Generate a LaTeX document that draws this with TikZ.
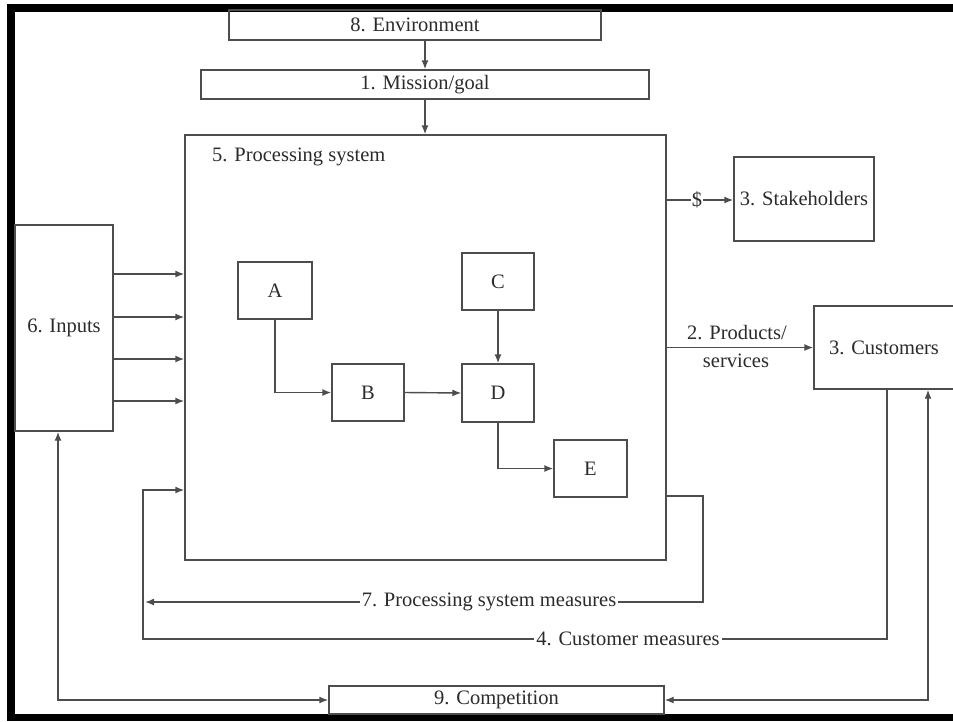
\documentclass[tikz,border=0pt]{standalone}
\usepackage{fontspec}
\setmainfont{Liberation Serif}
\newfontfamily\tnr{Liberation Serif}
\usetikzlibrary{arrows.meta}
\definecolor{ln}{HTML}{4d4d4d}
\definecolor{tx}{HTML}{2b2b2b}
\begin{document}
\begin{tikzpicture}[x=1pt,y=-1pt,
  box/.style={draw=ln,line width=1.4pt,rectangle,inner sep=0pt,text=tx,font=\tnr\fontsize{20.5}{22}\selectfont},
  lbl/.style={text=tx,font=\tnr\fontsize{20.5}{22}\selectfont,inner sep=2pt},
  wl/.style={lbl,fill=white},
  ln/.style={draw=ln,line width=1.4pt},
  arr/.style={ln,-{Latex[length=9pt,width=7pt]}},
  barr/.style={ln,{Latex[length=9pt,width=7pt]}-{Latex[length=9pt,width=7pt]}}]
\useasboundingbox (0,0) rectangle (953,721);
% frame
\fill[black] (7,4) rectangle (15,721);
\fill[black] (7,4) rectangle (953,12);
\fill[black] (7,714) rectangle (953,721);
% boxes
\node[box,minimum width=372pt,minimum height=30pt] (env) at (415,25) {8. Environment};
\node[box,minimum width=448pt,minimum height=29pt] (mis) at (425,84.5) {1. Mission/goal};
\node[box,minimum width=481pt,minimum height=425pt] (proc) at (425.5,347.5) {};
\node[lbl,anchor=west] (proct) at (210,157) {5. Processing system};
\node[box,minimum width=98pt,minimum height=206pt] (inp) at (64,328) {6. Inputs};
\node[box,minimum width=140pt,minimum height=84pt] (stake) at (804,199) {3. Stakeholders};
\node[box,minimum width=140pt,minimum height=83pt] (cust) at (884,347.5) {3. Customers};
\node[box,minimum width=335pt,minimum height=28pt] (comp) at (496.5,700) {9. Competition};
\node[box,minimum width=74pt,minimum height=57pt] (A) at (275,290.5) {A};
\node[box,minimum width=72pt,minimum height=57pt] (B) at (368,392.5) {B};
\node[box,minimum width=72pt,minimum height=57pt] (C) at (498,281.5) {C};
\node[box,minimum width=72pt,minimum height=58pt] (D) at (498,393) {D};
\node[box,minimum width=73pt,minimum height=57pt] (E) at (590.5,468.5) {E};
% top arrows
\draw[arr] (mis.north |- env.south) -- (mis.north);
\draw[arr] (mis.south) -- (mis.south |- proc.north);
% inputs
\foreach \yy in {274,317,359,401}
  \draw[arr] (inp.east |- 0,\yy) -- (proc.west |- 0,\yy);
% inner flow
\draw[arr] (A.south) |- (B.west);
\draw[arr] (B.east) -- (D.west);
\draw[arr] (C.south) -- (D.north);
\draw[arr] (D.south) |- (E.west);
% stakeholders
\node[lbl,inner sep=1pt] (dollar) at (697,200) {\$};
\draw[ln] (proc.east |- dollar) -- (dollar.west);
\draw[arr] (dollar.east) -- (stake.west |- dollar);
% products
\draw[arr] (proc.east |- cust.west) -- (cust.west);
\node[lbl] (prod) at (737,333) {2. Products/};
\node[lbl] (serv) at (736,361) {services};
% processing system measures
\coordinate (pm1) at (703,496);
\coordinate (pm2) at (703,602);
\coordinate (pm3) at (145,602);
\node[wl] (pmt) at (489,602) {7. Processing system measures};
\draw[ln] (proc.east |- pm1) -- (pm1) -- (pm2) -- (pmt.east);
\draw[arr] (pmt.west) -- (pm3);
% customer measures
\coordinate (cm1) at (887,639);
\coordinate (cm2) at (143,639);
\coordinate (cm3) at (143,490);
\node[wl] (cmt) at (628,639) {4. Customer measures};
\draw[ln] (cust.south -| cm1) -- (cm1) -- (cmt.east);
\draw[arr] (cmt.west) -- (cm2) -- (cm3) -- (proc.west |- cm3);
% competition
\coordinate (cl) at (58,700);
\coordinate (cr) at (928,700);
\draw[barr] (inp.south -| cl) -- (cl) -- (comp.west);
\draw[barr] (cust.south -| cr) -- (cr) -- (comp.east);
\end{tikzpicture}
\end{document}
